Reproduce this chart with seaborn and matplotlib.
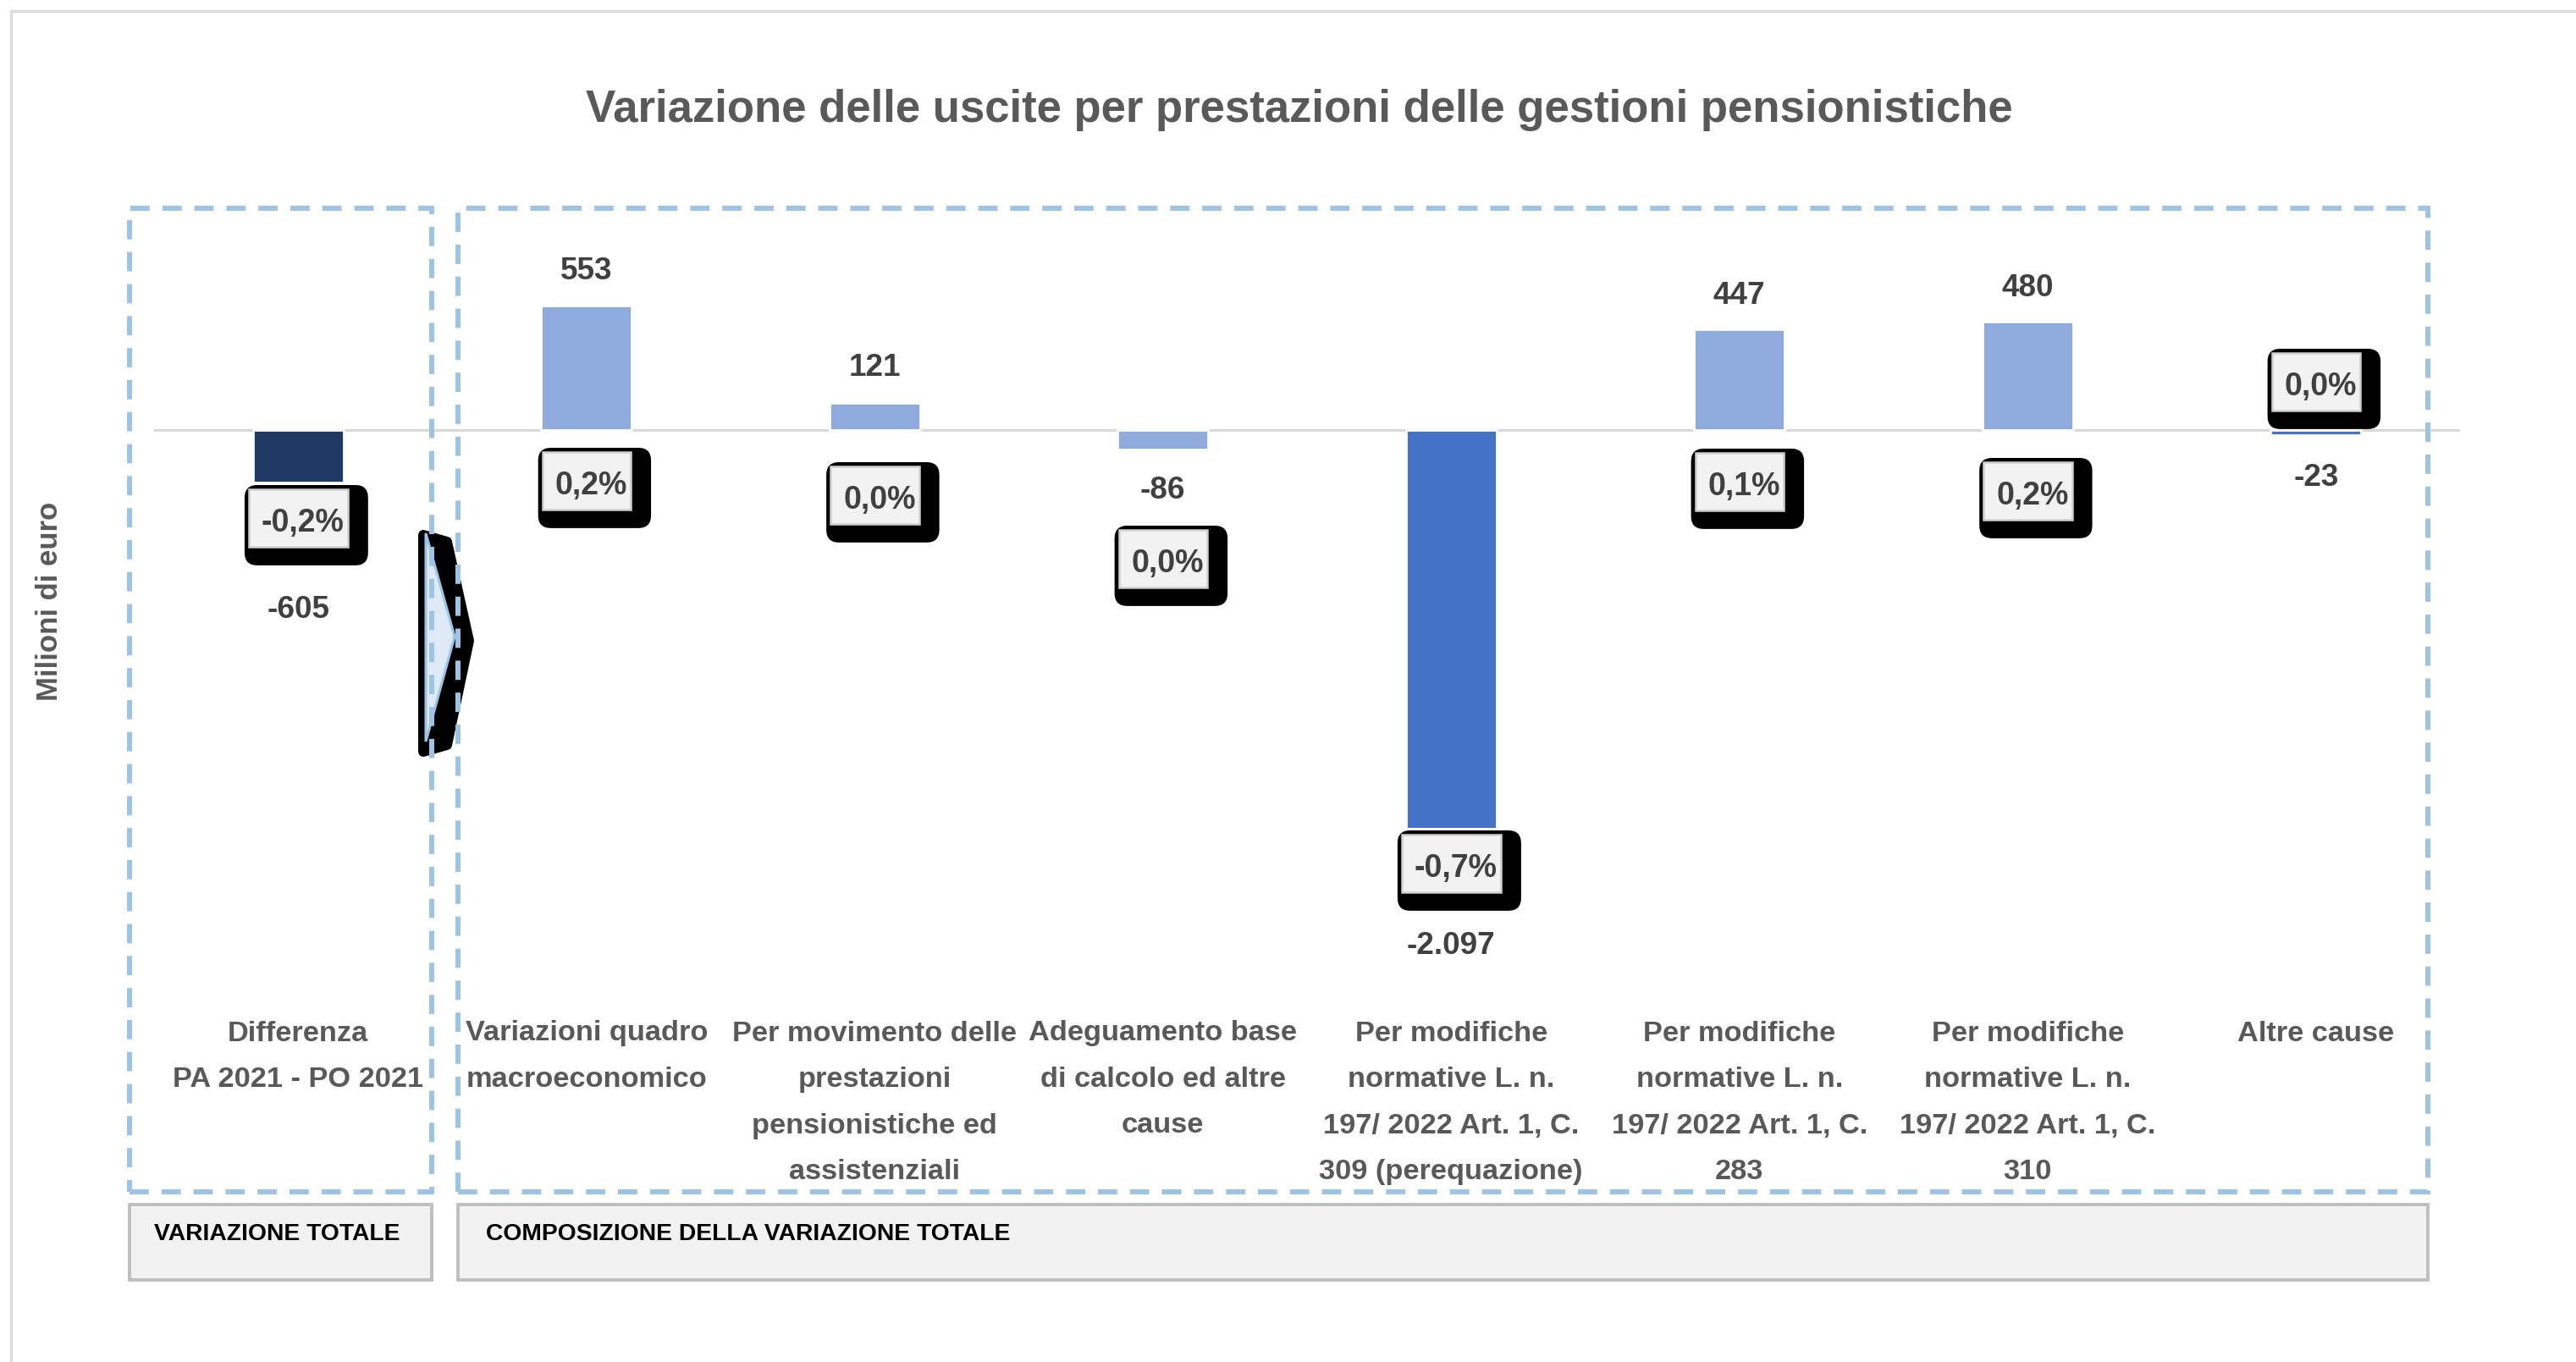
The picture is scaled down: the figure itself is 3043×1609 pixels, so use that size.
import numpy as np
import pandas as pd
import matplotlib
matplotlib.use("Agg")
import matplotlib.pyplot as plt
import seaborn as sns
from matplotlib.patches import Rectangle, Polygon, BoxStyle
from matplotlib.path import Path
from matplotlib.lines import Line2D

# ---------------- data ----------------
categories = [
    "Differenza\nPA 2021 - PO 2021",
    "Variazioni quadro\nmacroeconomico",
    "Per movimento delle\nprestazioni\npensionistiche ed\nassistenziali",
    "Adeguamento base\ndi calcolo ed altre\ncause",
    "Per modifiche\nnormative L. n.\n197/ 2022 Art. 1, C.\n309 (perequazione)",
    "Per modifiche\nnormative L. n.\n197/ 2022 Art. 1, C.\n283",
    "Per modifiche\nnormative L. n.\n197/ 2022 Art. 1, C.\n310",
    "Altre cause",
]
total_value = [-605]
component_values = [553, 121, -86, -2097, 447, 480, -23]
pct_changes = [-0.2, 0.2, 0.0, 0.0, -0.7, 0.1, 0.2, 0.0]
group_labels = ["VARIAZIONE TOTALE", "COMPOSIZIONE DELLA VARIAZIONE TOTALE"]
title_text = "Variazione delle uscite per prestazioni delle gestioni pensionistiche"
ylabel_text = "Milioni di euro"

# ---------------- style ----------------
bar_colors = ["#203864", "#8FAADC", "#8FAADC", "#8FAADC", "#4472C4",
              "#8FAADC", "#8FAADC", "#4472C4"]
# label offsets (pixels): value labels from bar end, pct boxes from zero line
value_dy = [-150, 40, 41, -49, -52, 40, 40, -50]
pct_dy = [-110, -66, -83, -158, -518, -67, -78, 51]

W, H, DPI = 3043, 1609, 200
sns.set_style("white")
plt.rcParams["font.family"] = ["Liberation Sans", "DejaVu Sans"]

fig = plt.figure(figsize=(W / DPI, H / DPI), dpi=DPI)
fig.patch.set_facecolor("white")


def fx(x):
    return x / W


def fy(y):
    return 1 - y / H


def P(x, y):
    return (fx(x), fy(y))


ax_left, ax_right, ax_top, ax_bot = 182, 2906, 246, 978
ax = fig.add_axes([fx(ax_left), fy(ax_bot), (ax_right - ax_left) / W, (ax_bot - ax_top) / H])
ax.set_facecolor("none")
ax2 = ax.twinx()
ax2.set_facecolor("none")

palette = dict(zip(categories, bar_colors))
df_comp = pd.DataFrame({"cat": categories[1:], "val": component_values})
df_tot = pd.DataFrame({"cat": categories[:1], "val": total_value})

sns.barplot(data=df_comp, x="cat", y="val", order=categories, hue="cat",
            palette=palette, saturation=1, width=0.314, legend=False,
            errorbar=None, ax=ax)
sns.barplot(data=df_tot, x="cat", y="val", order=categories, hue="cat",
            palette=palette, saturation=1, width=0.314, legend=False,
            errorbar=None, ax=ax2)

ax.set_xlim(-0.5, len(categories) - 0.5)
ax.set_ylim(-1767, 985)
ax2.set_ylim(-4586, 2557)
for a in (ax, ax2):
    a.set_xlabel("")
    a.set_ylabel("")
    a.tick_params(left=False, right=False, bottom=False, labelleft=False,
                  labelright=False, labelbottom=False)
    for s in a.spines.values():
        s.set_visible(False)

ax.axhline(0, color="#D9D9D9", lw=1.1, zorder=0.5)

# ---------------- labels ----------------
txt_dark = "#404040"
txt_gray = "#595959"
all_values = total_value + component_values


def fmt_val(v):
    return f"{v:,}".replace(",", ".")


def fmt_pct(p):
    return f"{p:.1f}".replace(".", ",") + "%"


def inner_box(x0, y0, w, h, ms):
    l, r, t, b = 0.40 * ms, 0.11 * ms, 0.59 * ms, 0.27 * ms
    verts = [(x0 - l, y0 - b), (x0 + w + r, y0 - b), (x0 + w + r, y0 + h + t),
             (x0 - l, y0 + h + t), (x0 - l, y0 - b)]
    codes = [Path.MOVETO, Path.LINETO, Path.LINETO, Path.LINETO, Path.CLOSEPOLY]
    return Path(verts, codes)


def shadow_box(x0, y0, w, h, ms):
    l, r, t, b = 0.53 * ms, 0.75 * ms, 0.72 * ms, 0.85 * ms
    return BoxStyle.Round(pad=0, rounding_size=0.4)(x0 - l, y0 - b, w + l + r,
                                                     h + t + b, ms)


for i, v in enumerate(all_values):
    src = ax2.transData if i == 0 else ax.transData
    ax2.annotate(fmt_val(v), xy=(i, v), xycoords=src, xytext=(0, value_dy[i]),
                 textcoords="offset pixels", ha="center", va="center",
                 fontsize=13.3, fontweight="bold", color=txt_dark,
                 annotation_clip=False, zorder=6)
    s = fmt_pct(pct_changes[i])
    ax2.annotate(s, xy=(i, 0), xycoords=ax.transData, xytext=(5.5, pct_dy[i]),
                 textcoords="offset pixels", ha="center", va="center",
                 fontsize=13.5, fontweight="bold", color="none",
                 bbox=dict(boxstyle=shadow_box, facecolor="black", edgecolor="none"),
                 annotation_clip=False, zorder=7)
    ax2.annotate(s, xy=(i, 0), xycoords=ax.transData, xytext=(5.5, pct_dy[i]),
                 textcoords="offset pixels", ha="center", va="center",
                 fontsize=13.5, fontweight="bold", color=txt_dark,
                 bbox=dict(boxstyle=inner_box, facecolor="#F2F2F2",
                           edgecolor="#D0D0D0", linewidth=0.9),
                 annotation_clip=False, zorder=8)

# category labels (below plot area)
line_gap = 54.5
first_line = 1221 - ax_bot
for i, cat in enumerate(categories):
    for k, line in enumerate(cat.split("\n")):
        ax2.annotate(line, xy=(i, 0), xycoords=ax.get_xaxis_transform(),
                     xytext=(0, -(first_line + k * line_gap)),
                     textcoords="offset pixels", ha="center", va="center",
                     fontsize=12.4, fontweight="bold", color=txt_gray,
                     annotation_clip=False)

# ---------------- decorations ----------------
# chart border
fig.add_artist(Line2D([fx(13), fx(13)], [fy(13), fy(H + 5)], color="#D9D9D9", lw=1.1))
fig.add_artist(Line2D([fx(13), fx(W + 5)], [fy(13), fy(13)], color="#D9D9D9", lw=1.1))

# arrow
fig.add_artist(Polygon([P(500, 632), P(528, 640), P(554, 757), P(528, 880), P(500, 888)],
                       closed=True, facecolor="black", edgecolor="black", lw=4.3,
                       joinstyle="round", zorder=1.5))
fig.add_artist(Polygon([P(503, 630), P(537, 752), P(503, 876)], closed=True,
                       facecolor="#DEEBF7", edgecolor="#9DC3E6", lw=1.1,
                       joinstyle="miter", zorder=1.6))

# dashed group frames
for (x0, x1) in [(153, 510), (541, 2868)]:
    fig.add_artist(Rectangle(P(x0, 1408), (x1 - x0) / W, (1408 - 246) / H,
                             fill=False, edgecolor="#9DC3E6", lw=2.16,
                             linestyle=(0, (3.8, 2.5)), zorder=2))
# grey group label boxes
for (x0, x1), lab, tx in zip([(153, 510), (541, 2868)], group_labels, [182, 574]):
    fig.add_artist(Rectangle(P(x0, 1512), (x1 - x0) / W, (1512 - 1423) / H,
                             facecolor="#F2F2F2", edgecolor="#BFBFBF", lw=1.4,
                             zorder=2))
    fig.text(fx(tx), fy(1458), lab, ha="left", va="center", fontsize=10.2,
             fontweight="bold", color="black", zorder=3)

# title and y label
fig.text(fx(1535), fy(130), title_text, ha="center", va="center", fontsize=19,
         fontweight="bold", color=txt_gray)
fig.text(fx(58), fy(710), ylabel_text, ha="center", va="center", rotation=90,
         fontsize=12.5, fontweight="bold", color=txt_gray)

fig.savefig("out.png", dpi=DPI)
